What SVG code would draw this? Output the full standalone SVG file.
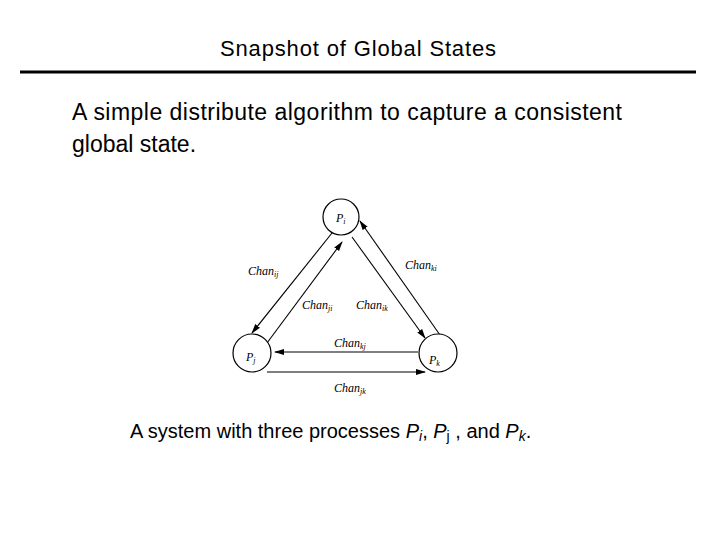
<svg xmlns="http://www.w3.org/2000/svg" width="720" height="540" viewBox="0 0 720 540">
<style>
.t{font-family:"Liberation Sans",Arial,sans-serif;fill:#000}
.m{font-family:"Liberation Serif","Times New Roman",serif;font-style:italic;font-size:12px;fill:#000}
.s{font-size:8px}
circle{fill:#fff;stroke:#000;stroke-width:1.2}
line.c{stroke:#000;stroke-width:1.1;marker-end:url(#a)}
</style>
<defs><marker id="a" markerWidth="10" markerHeight="8" refX="9" refY="4" orient="auto" markerUnits="userSpaceOnUse"><path d="M0,1 L10,4 L0,7 Z" fill="#000"/></marker></defs>
<rect width="720" height="540" fill="#fff"/>
<text class="t" x="358" y="56" font-size="22" text-anchor="middle" textLength="276">Snapshot of Global States</text>
<line x1="20" y1="72" x2="696" y2="72" stroke="#000" stroke-width="3"/>
<text class="t" x="72" y="120" font-size="23" textLength="550">A simple distribute algorithm to capture a consistent</text>
<text class="t" x="72" y="152" font-size="23">global state.</text>
<g id="connectors">
<line class="c" x1="332" y1="233" x2="252" y2="333"/>
<line class="c" x1="267" y1="343" x2="342" y2="242"/>
<line class="c" x1="352" y1="237" x2="425" y2="338"/>
<line class="c" x1="440" y1="335" x2="360" y2="221"/>
<line class="c" x1="418" y1="352" x2="275" y2="352"/>
<line class="c" x1="267" y1="372" x2="425" y2="372"/>
</g>
<g id="Pi"><circle cx="341" cy="217" r="18"/><text class="m" x="336" y="222">P<tspan class="s" dy="2">i</tspan></text></g>
<g id="Pj"><circle cx="252" cy="353" r="19"/><text class="m" x="246" y="361">P<tspan class="s" dy="2">j</tspan></text></g>
<g id="Pk"><circle cx="438" cy="353" r="19"/><text class="m" x="429" y="364">P<tspan class="s" dy="2">k</tspan></text></g>
<g id="labels">
<text class="m" x="248" y="275">Chan<tspan class="s" dy="2">ij</tspan></text>
<text class="m" x="405" y="269">Chan<tspan class="s" dy="2">ki</tspan></text>
<text class="m" x="302" y="309">Chan<tspan class="s" dy="2">ji</tspan></text>
<text class="m" x="356" y="309">Chan<tspan class="s" dy="2">ik</tspan></text>
<text class="m" x="334" y="347">Chan<tspan class="s" dy="2">kj</tspan></text>
<text class="m" x="334" y="392">Chan<tspan class="s" dy="2">jk</tspan></text>
</g>
<text class="t" x="130" y="438" font-size="20">A system with three processes <tspan font-style="italic">P</tspan><tspan font-style="italic" font-size="14" dy="3">i</tspan><tspan dy="-3">, </tspan><tspan font-style="italic">P</tspan><tspan font-size="14" dy="3">j</tspan><tspan dy="-3"> , and </tspan><tspan font-style="italic">P</tspan><tspan font-style="italic" font-size="14" dy="3">k</tspan><tspan dy="-3">.</tspan></text>
</svg>
